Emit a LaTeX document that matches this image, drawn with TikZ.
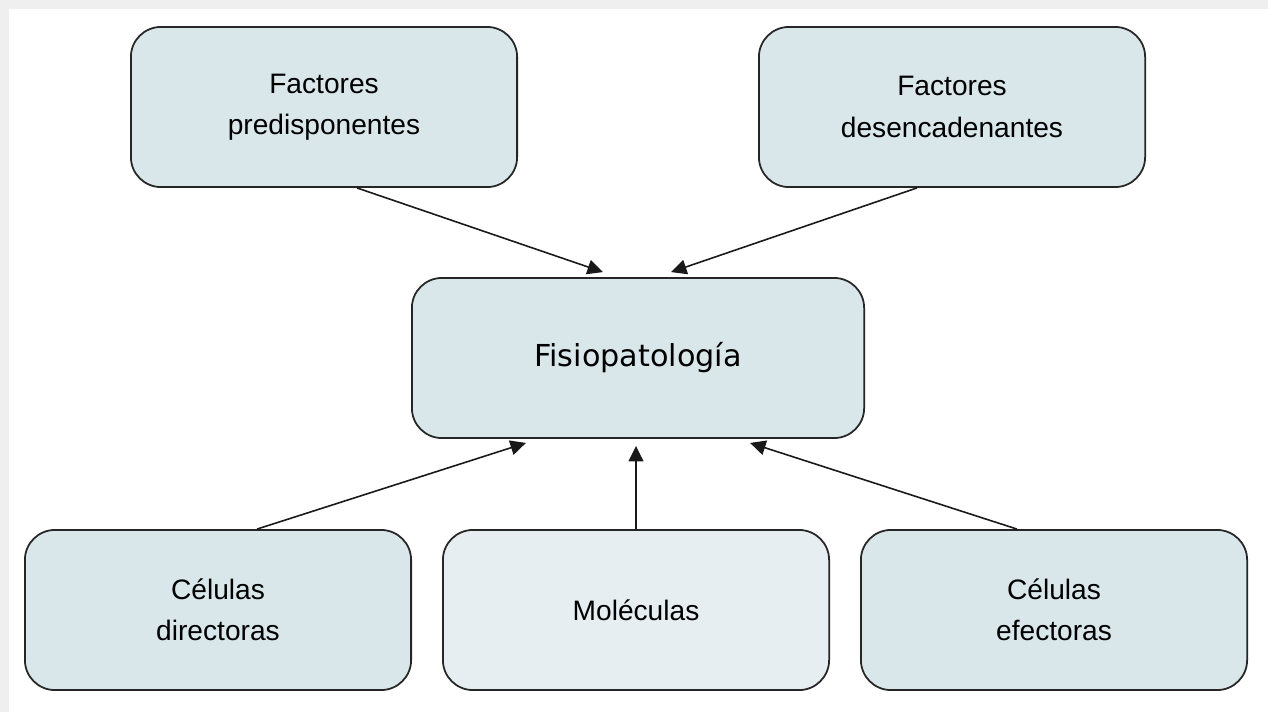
\documentclass[tikz,border=0pt]{standalone}
\usepackage{fontspec}
\setmainfont{Liberation Sans}
\newfontfamily\titlefont{DejaVu Sans}
\usetikzlibrary{arrows.meta}

\definecolor{boxfill}{HTML}{D9E7EB}
\definecolor{boxpale}{HTML}{E6EEF1}
\definecolor{framegray}{HTML}{EFEFEF}

\tikzset{
    factor/.style={draw=black!85, line width=0.5pt, fill=boxfill, rounded corners=0.3cm,
        minimum width=3.86cm, minimum height=1.6cm, align=center,
        font=\fontsize{8}{11.7}\selectfont},
    link/.style={-{Triangle[length=4.4pt,width=4.2pt]}, line width=0.45pt, black!90}
}

\begin{document}
\begin{tikzpicture}[x=0.01cm, y=-0.01cm]

    % screenshot frame
    \fill[framegray] (0,0) rectangle (1268,712);
    \fill[white] (9,9) rectangle (1268,712);

    % top row
    \node[factor] (pred) at (324,107) {Factores\\predisponentes};
    \node[factor] (desen) at (952,107) {Factores\\desencadenantes};

    % centre
    \node[factor, minimum width=4.52cm, font=\titlefont\fontsize{8.6}{10}\selectfont] (fisio) at (638,358) {Fisiopatología};

    % bottom row
    \node[factor] (direct) at (218,610) {Células\\directoras};
    \node[factor, fill=boxpale] (molec) at (636,610) {Moléculas};
    \node[factor] (efect) at (1054,610) {Células\\efectoras};

    % arrows into the centre box
    \draw[link] ([xshift=0.33cm]pred.south) -- ([xshift=-0.35cm,yshift=0.05cm]fisio.north);
    \draw[link] ([xshift=-0.35cm]desen.south) -- ([xshift=0.33cm,yshift=0.05cm]fisio.north);
    \draw[link] ([xshift=0.39cm]direct.north) -- ([xshift=-1.12cm,yshift=-0.04cm]fisio.south);
    \draw[link] (molec.north) -- ([yshift=-0.07cm]fisio.south -| molec.north);
    \draw[link] ([xshift=-0.37cm]efect.north) -- ([xshift=1.12cm,yshift=-0.04cm]fisio.south);

\end{tikzpicture}
\end{document}
